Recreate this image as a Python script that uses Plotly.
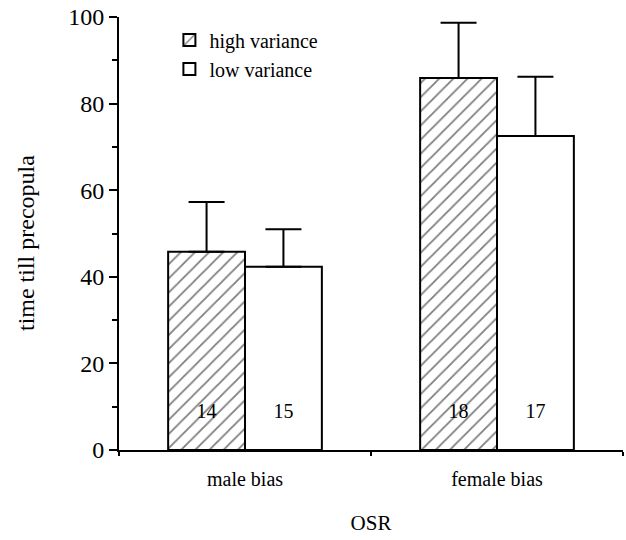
import plotly.graph_objects as go

categories = ["male bias", "female bias"]
high_variance = [45.8, 85.9]
high_variance_err = [11.5, 12.8]
low_variance = [42.3, 72.5]
low_variance_err = [8.7, 13.7]
high_n = ["14", "18"]
low_n = ["15", "17"]
y_ticks = [0, 20, 40, 60, 80, 100]

FONT = "Liberation Serif"
label_y = 8.6  # height at which the sample sizes are written

fig = go.Figure()
fig.add_trace(go.Bar(
    name="high variance", x=categories, y=high_variance,
    marker=dict(color="white", line=dict(color="black", width=2),
                pattern=dict(shape="/", fgcolor="black", bgcolor="white", size=10, solidity=0.18)),
    error_y=dict(type="data", symmetric=False, array=high_variance_err,
                 arrayminus=[0, 0], color="black", thickness=2, width=18),
    offsetgroup="h",
))
fig.add_trace(go.Bar(
    name="low variance", x=categories, y=low_variance,
    marker=dict(color="white", line=dict(color="black", width=2)),
    error_y=dict(type="data", symmetric=False, array=low_variance_err,
                 arrayminus=[0, 0], color="black", thickness=2, width=18),
    offsetgroup="l",
))
fig.add_trace(go.Scatter(
    x=categories, y=[label_y] * len(categories), text=high_n, mode="text",
    textfont=dict(family=FONT, size=20, color="black"), showlegend=False,
    hoverinfo="skip", offsetgroup="h",
))
fig.add_trace(go.Scatter(
    x=categories, y=[label_y] * len(categories), text=low_n, mode="text",
    textfont=dict(family=FONT, size=20, color="black"), showlegend=False,
    hoverinfo="skip", offsetgroup="l",
))

fig.update_layout(
    width=626, height=540,
    margin=dict(l=119, r=3, t=17, b=90),
    paper_bgcolor="white", plot_bgcolor="white",
    barmode="group", bargap=0.39, bargroupgap=0,
    scattermode="group", scattergap=0.39,
    font=dict(family=FONT, color="black"),
    legend=dict(x=0.10, y=0.992, xanchor="left", yanchor="top",
                font=dict(family=FONT, size=20, color="black"),
                bgcolor="rgba(0,0,0,0)", traceorder="normal"),
    showlegend=True,
    annotations=[dict(
        text="time till precopula", textangle=-90, showarrow=False,
        xref="paper", yref="paper", x=-0.1845, y=0.478,
        xanchor="center", yanchor="middle",
        font=dict(family=FONT, size=24, color="black"),
    )],
)
fig.update_xaxes(
    type="category", categoryorder="array", categoryarray=categories,
    showline=True, linecolor="black", linewidth=2,
    ticks="outside", tickson="boundaries", ticklen=4, tickwidth=2, tickcolor="black",
    tickfont=dict(family=FONT, size=20, color="black"), ticklabelstandoff=10,
    showgrid=False, zeroline=False, automargin=False,
    title=dict(text="OSR", font=dict(family=FONT, size=21, color="black"), standoff=26),
)
fig.update_yaxes(
    range=[0, 100], tickvals=y_ticks,
    showline=True, linecolor="black", linewidth=2,
    ticks="outside", ticklen=8, tickwidth=2, tickcolor="black",
    minor=dict(dtick=10, ticklen=5, tickwidth=2, tickcolor="black", ticks="outside", showgrid=False),
    tickfont=dict(family=FONT, size=24, color="black"),
    showgrid=False, zeroline=False, automargin=False,
)

fig.write_html("out.html", post_script="document.body.style.margin='0px';",
               config={"displayModeBar": False})
